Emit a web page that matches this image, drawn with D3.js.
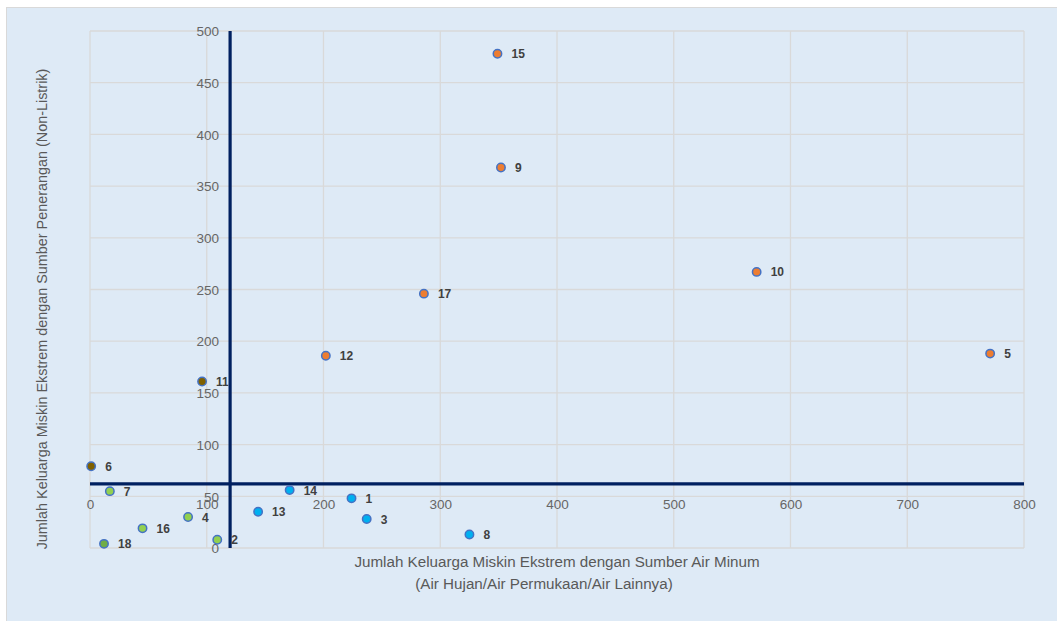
<!DOCTYPE html>
<html>
<head>
<meta charset="utf-8">
<script src="https://cdn.jsdelivr.net/npm/d3@7"></script>
<style>
    body { margin: 0; background: #fff; }
    svg { display: block; font-family: 'Liberation Sans', Arial, sans-serif; }
</style>
</head>
<body>
<div id="chart"></div>
<script>
// Data: one point per label
const labels = ['1', '2', '3', '4', '5', '6', '7', '8', '9', '10', '11', '12', '13', '14', '15', '16', '17', '18'];
const airMinum = [224, 109, 237, 84, 771, 1, 17, 325, 352, 571, 96, 202, 144, 171, 349, 45, 286, 12];
const penerangan = [48, 8, 28, 30, 188, 79, 55, 13, 368, 267, 161, 186, 35, 56, 478, 19, 246, 4];
// Group per point (quadrant colour), 18 has its own darker green
const groups = ['BR', 'BL', 'BR', 'BL', 'TR', 'TL', 'BL', 'BR', 'TR', 'TR', 'TL', 'TR', 'BR', 'BR', 'TR', 'BL', 'TR', 'BL2'];
const xTicks = [0, 100, 200, 300, 400, 500, 600, 700, 800];
const yTicks = [0, 50, 100, 150, 200, 250, 300, 350, 400, 450, 500];
// Where the dark axis lines cross
const crossX = 120;
const crossY = 62;

const groupColor = {
    TR: '#ED7D31',
    TL: '#7F6000',
    BL: '#92D050',
    BL2: '#70AD47',
    BR: '#00B0F0'
};

const width = 1057,
    height = 621;
const plot = { left: 90, right: 1024, top: 31, bottom: 548 };

const svg = d3
    .select('#chart')
    .append('svg')
    .attr('width', width)
    .attr('height', height);

// Chart background
svg.append('rect')
    .attr('x', 6.5)
    .attr('y', 7.5)
    .attr('width', width)
    .attr('height', height)
    .attr('fill', '#DEEAF6')
    .attr('stroke', '#D9D9D9')
    .attr('stroke-width', 1);

const x = d3.scaleLinear().domain([0, 800]).range([plot.left, plot.right]);
const y = d3.scaleLinear().domain([0, 500]).range([plot.bottom, plot.top]);

// Gridlines
svg.append('g')
    .selectAll('line')
    .data(xTicks)
    .enter()
    .append('line')
    .attr('x1', (d) => x(d))
    .attr('x2', (d) => x(d))
    .attr('y1', plot.top)
    .attr('y2', plot.bottom)
    .attr('stroke', '#D9D9D9')
    .attr('stroke-width', 1.3);

svg.append('g')
    .selectAll('line')
    .data(yTicks)
    .enter()
    .append('line')
    .attr('x1', plot.left)
    .attr('x2', plot.right)
    .attr('y1', (d) => y(d))
    .attr('y2', (d) => y(d))
    .attr('stroke', '#D9D9D9')
    .attr('stroke-width', 1.3);

// Axes crossing inside the plot (labels sit next to the axis lines)
const xAxis = d3.axisBottom(x).tickValues(xTicks).tickSize(0).tickPadding(20);
const yAxis = d3.axisLeft(y).tickValues(yTicks).tickSize(0).tickPadding(11);

const gx = svg.append('g').attr('transform', `translate(0,${y(crossY)})`).call(xAxis);
const gy = svg.append('g').attr('transform', `translate(${x(crossX)},0)`).call(yAxis);

[gx, gy].forEach((g) => {
    g.select('.domain').attr('stroke', '#002060').attr('stroke-width', 3.2);
    g.selectAll('text')
        .attr('fill', '#666666')
        .style('font-size', '13.5px')
        .style('font-family', "'Liberation Sans', Arial, sans-serif");
});
gx.select('.domain').attr('d', `M${plot.left},0H${plot.right}`);
gy.select('.domain').attr('d', `M0,${plot.top}V${plot.bottom}`);
gx.selectAll('text').attr('dy', '0.4em');
gy.selectAll('text').attr('dy', '0.35em');

// Axis titles
svg.append('text')
    .attr('x', 557)
    .attr('y', 567)
    .attr('text-anchor', 'middle')
    .attr('fill', '#595959')
    .style('font-size', '15.2px')
    .text('Jumlah Keluarga Miskin Ekstrem dengan Sumber Air Minum');
svg.append('text')
    .attr('x', 544)
    .attr('y', 589)
    .attr('text-anchor', 'middle')
    .attr('fill', '#595959')
    .style('font-size', '15.2px')
    .text('(Air Hujan/Air Permukaan/Air Lainnya)');
svg.append('text')
    .attr('transform', 'translate(47,309) rotate(-90)')
    .attr('text-anchor', 'middle')
    .attr('fill', '#595959')
    .style('font-size', '14.4px')
    .text('Jumlah Keluarga Miskin Ekstrem dengan Sumber Penerangan (Non-Listrik)');

// Points
const pts = labels.map((l, i) => ({
    label: l,
    x: airMinum[i],
    y: penerangan[i],
    group: groups[i]
}));

svg.append('g')
    .selectAll('circle')
    .data(pts)
    .enter()
    .append('circle')
    .attr('cx', (d) => x(d.x))
    .attr('cy', (d) => y(d.y))
    .attr('r', 4.2)
    .attr('fill', (d) => groupColor[d.group])
    .attr('stroke', '#4472C4')
    .attr('stroke-width', 1.5);

svg.append('g')
    .selectAll('text')
    .data(pts)
    .enter()
    .append('text')
    .attr('x', (d) => x(d.x) + 14)
    .attr('y', (d) => y(d.y))
    .attr('dy', '0.38em')
    .attr('fill', '#404040')
    .style('font-size', '12px')
    .style('font-weight', 'bold')
    .text((d) => d.label);
</script>
</body>
</html>
